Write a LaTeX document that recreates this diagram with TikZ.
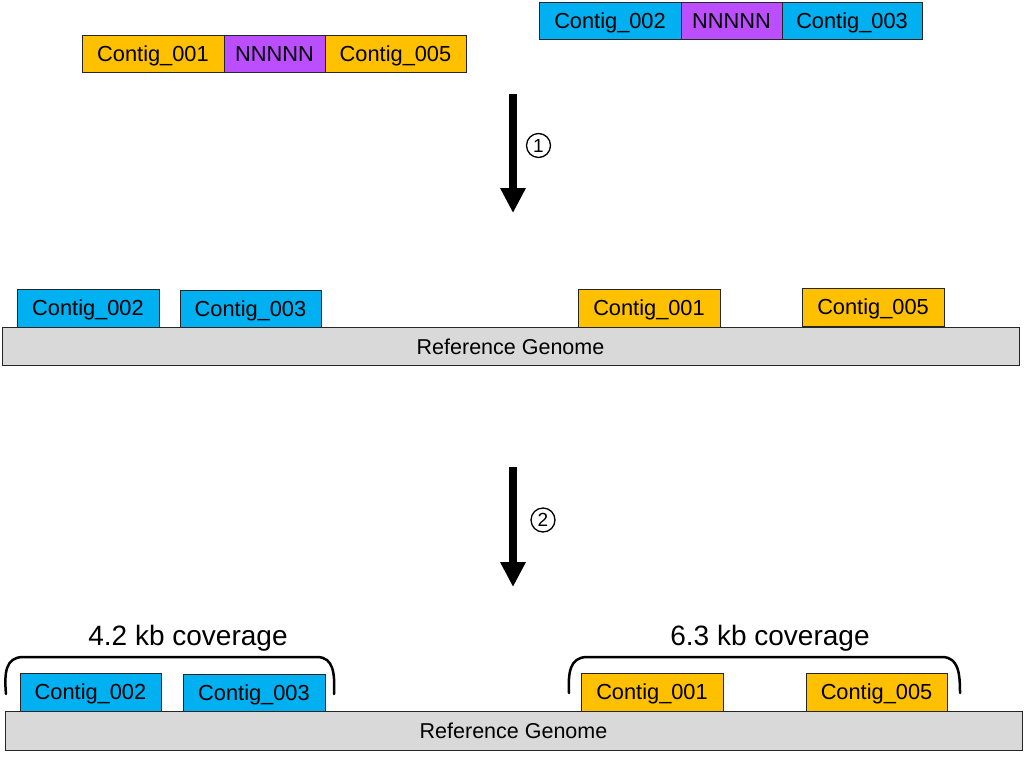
\documentclass[tikz,border=0pt]{standalone}
\usepackage{fontspec}
\setmainfont{Liberation Sans}
\usetikzlibrary{arrows.meta}
\definecolor{corange}{HTML}{FFC000}
\definecolor{cblue}{HTML}{00B0F0}
\definecolor{cpurple}{HTML}{BB4EFF}
\definecolor{cgray}{HTML}{D9D9D9}
\definecolor{cborder}{HTML}{262626}
\tikzset{
  cbox/.style={draw=cborder, line width=1pt, inner sep=0pt, minimum height=37pt,
    text height=15.6pt, text depth=0pt,
    font=\fontsize{21.8}{24}\selectfont},
  oc/.style={cbox, fill=corange},
  bc/.style={cbox, fill=cblue},
  pc/.style={cbox, fill=cpurple},
  refbar/.style={cbox, fill=cgray, minimum width=1017pt, minimum height=38pt,
    text height=15.4pt, font=\fontsize{21.5}{24}\selectfont},
  bigarrow/.style={line width=8pt, -{Triangle[length=25pt,width=24pt]}},
  circlbl/.style={draw, circle, line width=1.3pt, minimum size=24pt, inner sep=0pt,
    text height=13.5pt, text depth=0pt, font=\fontsize{19}{20}\selectfont},
  brace/.style={line width=2.5pt, line cap=round},
  covlbl/.style={font=\fontsize{28}{32}\selectfont, inner sep=0pt}
}
\begin{document}
\begin{tikzpicture}[x=1pt,y=-1pt]
\useasboundingbox (0,0) rectangle (1024,758);
% top left scaffold
\node[oc, minimum width=142pt] (t001) at (153,53.5) {Contig\_001};
\node[pc, minimum width=101pt] (tn1) at (274.5,53.5) {NNNNN};
\node[oc, minimum width=141pt] (t005) at (395.5,53.5) {Contig\_005};
% top right scaffold
\node[bc, minimum width=142pt] (t002) at (610,20.5) {Contig\_002};
\node[pc, minimum width=101pt] (tn2) at (731.5,20.5) {NNNNN};
\node[bc, minimum width=140pt] (t003) at (852,20.5) {Contig\_003};
% arrow 1
\coordinate (a1s) at (513,94);
\coordinate (a1e) at (513,213);
\draw[bigarrow] (a1s) -- (a1e);
\node[circlbl] (l1) at (538.5,145.5) {1};
% middle row
\node[refbar] (ref1) at (510.5,346.5) {Reference Genome};
\node[bc, minimum width=142pt, minimum height=38pt] (m002) at (88,308) {Contig\_002};
\node[bc, minimum width=141pt] (m003) at (250.5,308.5) {Contig\_003};
\node[oc, minimum width=142pt, minimum height=38pt] (m001) at (649,308) {Contig\_001};
\node[oc, minimum width=142pt, minimum height=38pt] (m005) at (873,307) {Contig\_005};
% arrow 2
\coordinate (a2s) at (513,467);
\coordinate (a2e) at (513,587);
\draw[bigarrow] (a2s) -- (a2e);
\node[circlbl] (l2) at (543,520) {2};
% bottom row
\node[refbar, minimum height=39pt] (ref2) at (513.5,730.5) {Reference Genome};
\node[bc, minimum width=141pt, minimum height=38pt] (b002) at (90.5,692) {Contig\_002};
\node[bc, minimum width=142pt] (b003) at (254,692.5) {Contig\_003};
\node[oc, minimum width=142pt, minimum height=38pt] (b001) at (652,692) {Contig\_001};
\node[oc, minimum width=141pt, minimum height=38pt] (b005) at (876.5,692) {Contig\_005};
% braces
\draw[brace] (6,694) .. controls (4,672) and (6,658) .. (22,657) -- (318,657) .. controls (333,658) and (335,672) .. (334,694);
\draw[brace] (569,693) .. controls (568,672) and (570,658) .. (586,657) -- (943,657) .. controls (958,658) and (960,672) .. (960,693);
\node[covlbl] (c1) at (188,638) {4.2 kb coverage};
\node[covlbl] (c2) at (770,638) {6.3 kb coverage};
\end{tikzpicture}
\end{document}
